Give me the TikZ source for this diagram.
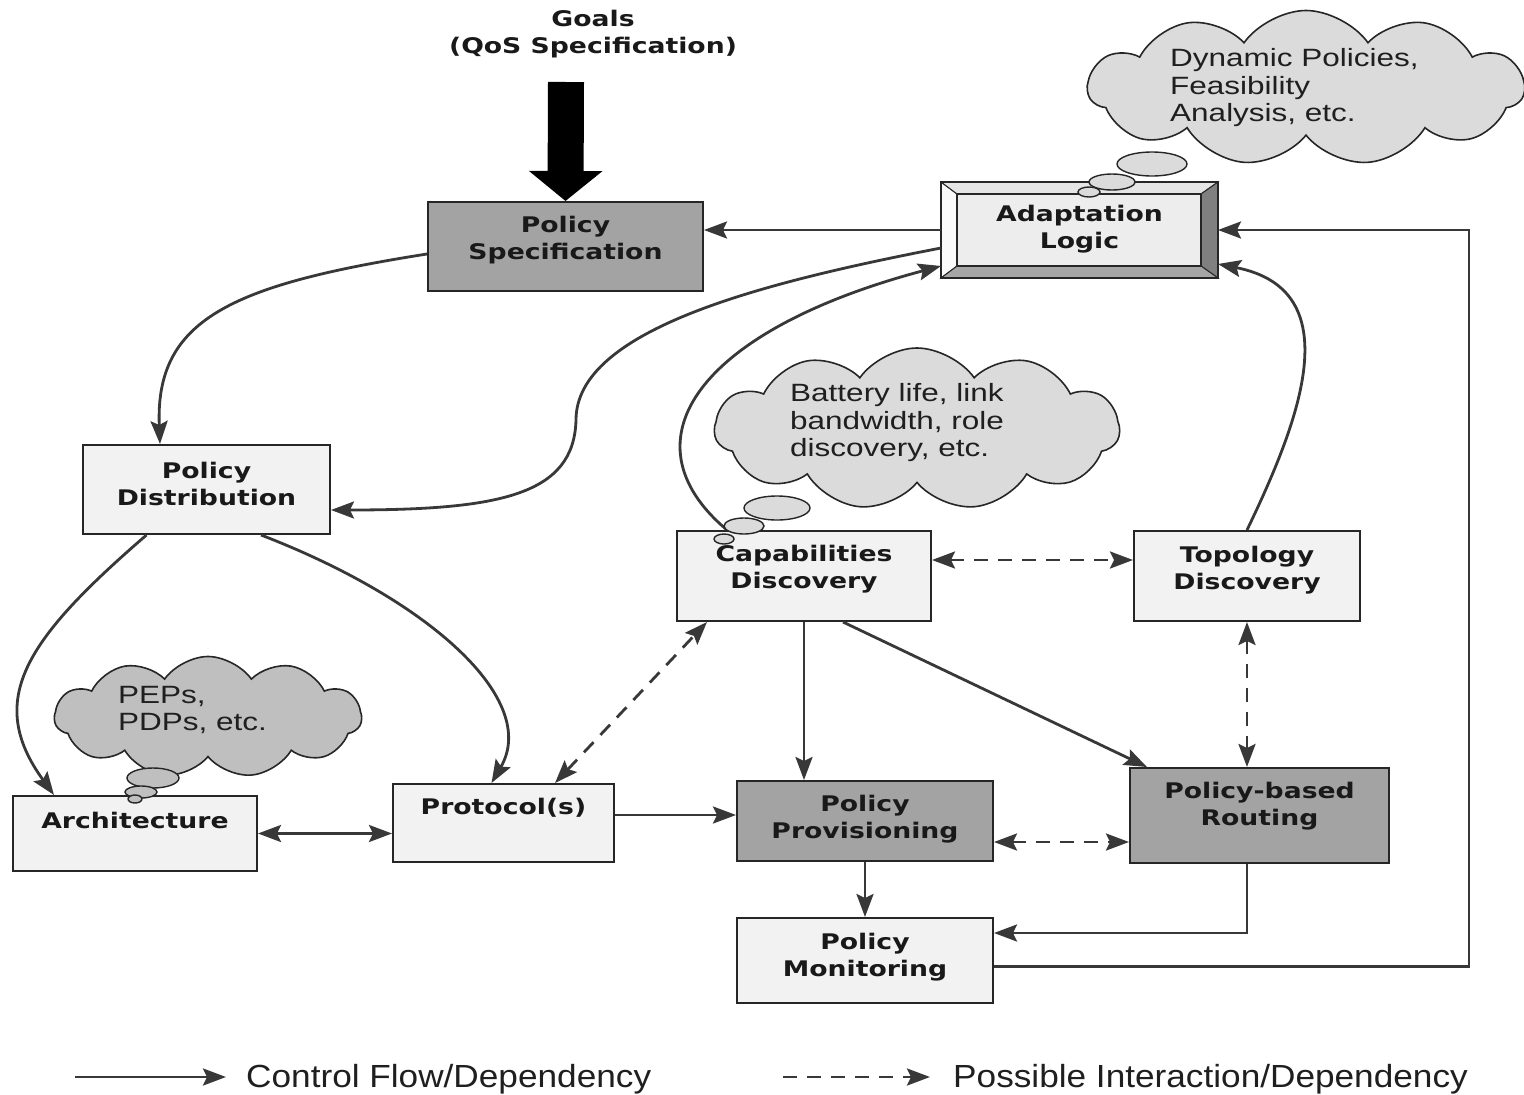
\documentclass[tikz,border=0pt]{standalone}
\usepackage{fontspec}
\setmainfont{Liberation Sans}
\newfontfamily\boxfont[FakeStretch=1.24]{DejaVu Sans}
\newfontfamily\cloudfont[FakeStretch=1.26]{Liberation Sans}
\newfontfamily\legfont[FakeStretch=1.1]{Liberation Sans}
\usepackage{tikz}
\usetikzlibrary{arrows.meta,shapes.symbols}

\begin{document}
\begin{tikzpicture}[x=1pt, y=-1pt,
    box/.style={rectangle, draw=black!85, line width=2pt, inner sep=0pt},
    lbox/.style={box, fill=black!5},
    dbox/.style={box, fill=black!36},
    btxt/.style={align=center, inner sep=0pt, text=black!90,
                 font=\boxfont\bfseries\fontsize{21.5}{27}\selectfont},
    thought/.style={cloud, cloud puffs=11, cloud puff arc=110, draw=black!85,
                    line width=1.6pt, inner sep=0pt},
    ctxt/.style={align=left, anchor=west, inner sep=0pt, text=black!88,
                 font=\cloudfont\fontsize{25}{27.5}\selectfont},
    ltxt/.style={anchor=base west, inner sep=0pt, text=black!88,
                 font=\legfont\fontsize{32}{36}\selectfont},
    arr/.style={->, >={Stealth[length=23pt, width=17pt, inset=4pt]},
                line width=2.8pt, draw=black!78},
    dsh/.style={arr, dash pattern=on 14pt off 10pt},
    bigarr/.style={-{Triangle[length=30pt, width=72pt]}, line width=36pt, draw=black},
  ]
  \useasboundingbox (0,0) rectangle (1524,1095);

  % ===== Goals =====
  \node[btxt] (goals) at (593,34) {Goals\\(QoS Specification)};
  \coordinate (gin) at (566,82);

  % ===== Boxes =====
  \node[dbox, minimum width=275pt, minimum height=89pt] (pspec) at (565.5,246.5) {};
  \node[btxt] (pspec-t) at (565.5,240.5) {Policy\\Specification};

  % adaptation logic (bevelled)
  \node[box, fill=black!6, minimum width=275pt, minimum height=94pt] (adapt) at (1079.5,230) {};
  \coordinate (a-nw) at ([xshift=16pt, yshift=-12pt]adapt.north west);
  \coordinate (a-se) at ([xshift=-17pt, yshift=12pt]adapt.south east);
  \coordinate (a-ne) at (a-se |- a-nw);
  \coordinate (a-sw) at (a-nw |- a-se);
  \filldraw[fill=black!2, draw=black!85, line width=1pt]
    (adapt.north west) -- (a-nw) -- (a-sw) -- (adapt.south west) -- cycle;
  \filldraw[fill=black!10, draw=black!85, line width=1pt]
    (adapt.north west) -- (adapt.north east) -- (a-ne) -- (a-nw) -- cycle;
  \filldraw[fill=black!50, draw=black!85, line width=1pt]
    (adapt.north east) -- (adapt.south east) -- (a-se) -- (a-ne) -- cycle;
  \filldraw[fill=black!35, draw=black!85, line width=1pt]
    (adapt.south west) -- (adapt.south east) -- (a-se) -- (a-sw) -- cycle;
  \filldraw[fill=black!7, draw=black!85, line width=1.4pt] (a-nw) rectangle (a-se);
  \draw[black!85, line width=2pt] (adapt.north west) rectangle (adapt.south east);
  \node[btxt] (adapt-t) at (1079.5,229.5) {Adaptation\\Logic};

  \node[lbox, minimum width=247pt, minimum height=89pt] (pdist) at (206.5,489.5) {};
  \node[btxt] (pdist-t) at (206.5,483.5) {Policy\\Distribution};

  \node[lbox, minimum width=254pt, minimum height=90pt] (capd) at (804,576) {};
  \node[btxt] (capd-t) at (804,569) {Capabilities\\Discovery};

  \node[lbox, minimum width=226pt, minimum height=90pt] (topo) at (1247,576) {};
  \node[btxt] (topo-t) at (1247,570) {Topology\\Discovery};

  \node[lbox, minimum width=244pt, minimum height=75pt] (arch) at (135,833.5) {};
  \node[btxt] (arch-t) at (135,820) {Architecture};

  \node[lbox, minimum width=221pt, minimum height=78pt] (proto) at (503.5,823) {};
  \node[btxt] (proto-t) at (503.5,808) {Protocol(s)};

  \node[dbox, minimum width=256pt, minimum height=80pt] (pprov) at (865,821) {};
  \node[btxt] (pprov-t) at (865,819.5) {Policy\\Provisioning};

  \node[dbox, minimum width=259pt, minimum height=95pt] (proute) at (1259.5,815.5) {};
  \node[btxt] (proute-t) at (1259.5,806) {Policy-based\\Routing};

  \node[lbox, minimum width=256pt, minimum height=85pt] (pmon) at (865,960.5) {};
  \node[btxt] (pmon-t) at (865,957) {Policy\\Monitoring};

  % ===== Connectors =====
  \draw[bigarr] (gin) -- (pspec.north);
  \draw[arr] (adapt.west) -- (adapt.west -| pspec.east);
  \draw[arr] ([yshift=-7.5pt]pspec.west) .. controls (230,285) and (155,320) .. ([xshift=-46.5pt]pdist.north);
  \draw[arr] ([yshift=-18pt]adapt.west) .. controls (760,283) and (576,330) .. (576,420)
                                        .. controls (574,495) and (500,510) .. ([yshift=-20.5pt]pdist.east);
  \draw[arr] ([xshift=-77pt]capd.north) .. controls (620,440) and (700,330) .. ([yshift=12pt]adapt.south west);
  \draw[arr] (topo.north) .. controls (1300,420) and (1350,290) .. ([yshift=14pt]adapt.south east);
  \draw[arr] ([yshift=-6pt]pmon.east) -| ([xshift=251pt]adapt.east) -- (adapt.east);
  \draw[arr] ([xshift=-60pt]pdist.south) .. controls (25,640) and (-15,700) .. ([xshift=-81pt]arch.north);
  \draw[arr] ([xshift=54.5pt]pdist.south) .. controls (430,600) and (540,700) .. ([xshift=-12pt]proto.north);
  \draw[arr, <->] (arch.east) -- (arch.east -| proto.west);
  \draw[arr] ([yshift=8pt]proto.east) -- ([yshift=8pt]proto.east -| pprov.west);
  \draw[dsh, <->] ([xshift=51.5pt]proto.north) -- ([xshift=31pt]capd.south west);
  \draw[dsh, <->] ([yshift=16pt]capd.east) -- ([yshift=16pt]capd.east -| topo.west);
  \draw[arr] (capd.south) -- (capd.south |- pprov.north);
  \draw[arr] ([xshift=39pt]capd.south) -- ([xshift=18pt]proute.north west);
  \draw[dsh, <->] (topo.south) -- (topo.south |- proute.north);
  \draw[dsh, <->] ([yshift=-21pt]pprov.east) -- ([yshift=-21pt]pprov.east -| proute.west);
  \draw[arr] (pprov.south) -- (pmon.north);
  \draw[arr] ([xshift=-12.5pt]proute.south) |- ([yshift=27.5pt]pmon.east);

  % ===== Clouds =====
  \node[thought, fill=black!14, aspect=2.8, minimum width=436pt, minimum height=155pt] (c-dyn) at (1306,88) {};
  \filldraw[fill=black!14, draw=black!85, line width=1.4pt] (1152,164) ellipse [x radius=35pt, y radius=12pt];
  \filldraw[fill=black!14, draw=black!85, line width=1.4pt] (1112,182) ellipse [x radius=23pt, y radius=8pt];
  \filldraw[fill=black!14, draw=black!85, line width=1.4pt] (1089,192) ellipse [x radius=11pt, y radius=5pt];
  \node[ctxt] (c-dyn-t) at (1170,88) {Dynamic Policies,\\Feasibility\\Analysis, etc.};

  \node[thought, fill=black!14, aspect=2.5, minimum width=405pt, minimum height=162pt] (c-bat) at (917,429) {};
  \filldraw[fill=black!14, draw=black!85, line width=1.4pt] (777,508) ellipse [x radius=33pt, y radius=12pt];
  \filldraw[fill=black!14, draw=black!85, line width=1.4pt] (744,526) ellipse [x radius=20pt, y radius=8pt];
  \filldraw[fill=black!14, draw=black!85, line width=1.4pt] (724,539) ellipse [x radius=10pt, y radius=5pt];
  \node[ctxt] (c-bat-t) at (790,423) {Battery life, link\\bandwidth, role\\discovery, etc.};

  \node[thought, fill=black!25, aspect=2.5, minimum width=307pt, minimum height=121pt] (c-pep) at (208,717) {};
  \filldraw[fill=black!25, draw=black!85, line width=1.4pt] (153,778) ellipse [x radius=26pt, y radius=10pt];
  \filldraw[fill=black!25, draw=black!85, line width=1.4pt] (141,792) ellipse [x radius=16pt, y radius=6pt];
  \filldraw[fill=black!25, draw=black!85, line width=1.4pt] (135,799) ellipse [x radius=7pt, y radius=4pt];
  \node[ctxt] (c-pep-t) at (118,710) {PEPs,\\PDPs, etc.};

  % ===== Legend =====
  \coordinate (k1a) at (75,1077);
  \coordinate (k1b) at (226,1077);
  \draw[arr] (k1a) -- (k1b);
  \node[ltxt] (k1t) at (246,1087) {Control Flow/Dependency};
  \coordinate (k2a) at (783,1077);
  \coordinate (k2b) at (930,1077);
  \draw[dsh] (k2a) -- (k2b);
  \node[ltxt] (k2t) at (953,1087) {Possible Interaction/Dependency};

\end{tikzpicture}
\end{document}
